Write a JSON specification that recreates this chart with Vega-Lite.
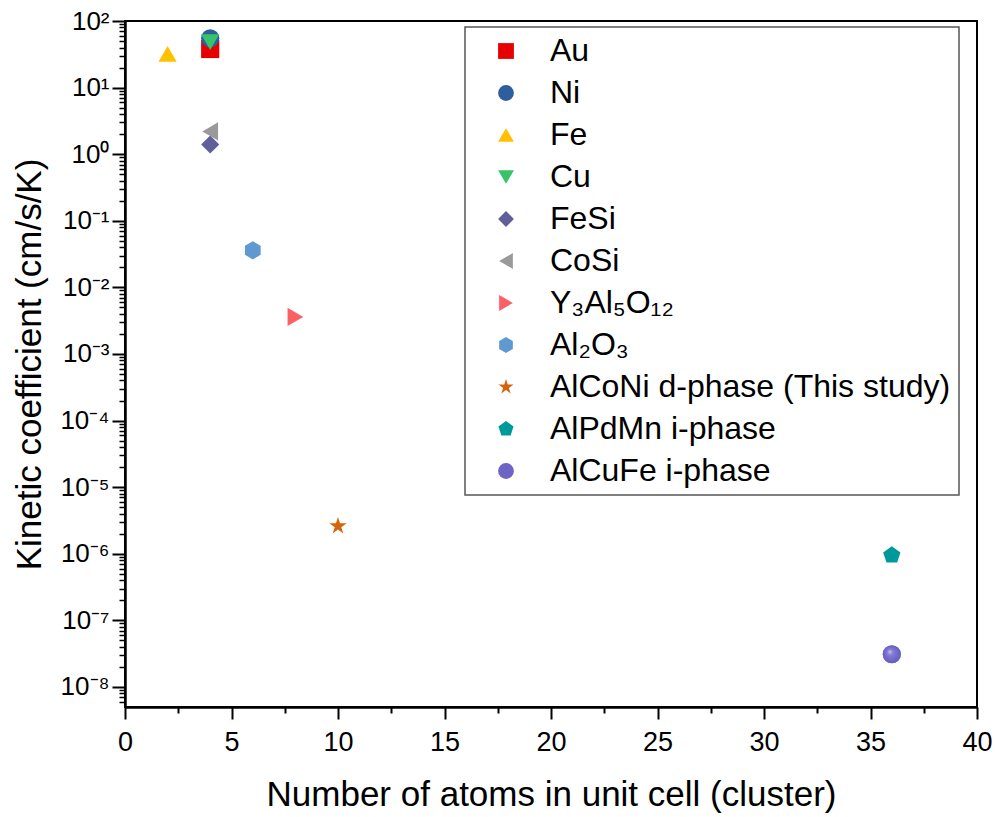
{
  "$schema": "https://vega.github.io/schema/vega-lite/v6.json",
  "width": 852,
  "height": 686,
  "autosize": {"type": "none"},
  "padding": {"left": 125, "top": 21, "right": 18, "bottom": 110},
  "background": "white",
  "config": {
    "font": "Liberation Sans",
    "view": {"stroke": "black", "strokeWidth": 2},
    "legend": {
      "labelFont": "Liberation Sans",
      "labelFontSize": 32,
      "labelColor": "black",
      "labelLimit": 700,
      "symbolSize": 250,
      "symbolStrokeWidth": 0,
      "rowPadding": 10,
      "padding": 8,
      "strokeColor": "#555555",
      "strokeWidth": 1.5,
      "symbolOffset": 17,
      "labelOffset": 28
    }
  },
  "data": {
    "values": [
      {"material": "Au", "atoms": 4, "k": 38},
      {"material": "Ni", "atoms": 4, "k": 55},
      {"material": "Fe", "atoms": 2, "k": 32},
      {"material": "Cu", "atoms": 4, "k": 48},
      {"material": "FeSi", "atoms": 4, "k": 1.4},
      {"material": "CoSi", "atoms": 4, "k": 2.2},
      {"material": "Y₃Al₅O₁₂", "atoms": 8, "k": 0.0036},
      {"material": "Al₂O₃", "atoms": 6, "k": 0.036},
      {"material": "AlCoNi d-phase (This study)", "atoms": 10, "k": 2.6e-6},
      {"material": "AlPdMn i-phase", "atoms": 36, "k": 9.5e-7},
      {"material": "AlCuFe i-phase", "atoms": 36, "k": 3.1e-8}
    ]
  },
  "resolve": {"axis": {"x": "independent", "y": "independent"}},
  "layer": [
    {
      "mark": {"type": "point", "filled": true, "opacity": 0, "size": 10},
      "encoding": {
        "x": {
          "field": "atoms",
          "type": "quantitative",
          "scale": {"domain": [0, 40], "nice": false, "zero": false},
          "axis": {
            "orient": "bottom",
            "title": null,
            "values": [2.5, 7.5, 12.5, 17.5, 22.5, 27.5, 32.5, 37.5],
            "labels": false,
            "domain": false,
            "tickColor": "black",
            "tickWidth": 2,
            "tickSize": 6,
            "grid": false
          }
        },
        "y": {
          "field": "k",
          "type": "quantitative",
          "scale": {"type": "log", "domain": [5e-9, 100], "nice": false},
          "axis": {
            "orient": "left",
            "title": null,
            "values": [6e-9, 7e-9, 8e-9, 9e-9,
              2e-8, 3e-8, 4e-8, 5e-8, 6e-8, 7e-8, 8e-8, 9e-8,
              2e-7, 3e-7, 4e-7, 5e-7, 6e-7, 7e-7, 8e-7, 9e-7,
              2e-6, 3e-6, 4e-6, 5e-6, 6e-6, 7e-6, 8e-6, 9e-6,
              2e-5, 3e-5, 4e-5, 5e-5, 6e-5, 7e-5, 8e-5, 9e-5,
              2e-4, 3e-4, 4e-4, 5e-4, 6e-4, 7e-4, 8e-4, 9e-4,
              0.002, 0.003, 0.004, 0.005, 0.006, 0.007, 0.008, 0.009,
              0.02, 0.03, 0.04, 0.05, 0.06, 0.07, 0.08, 0.09,
              0.2, 0.3, 0.4, 0.5, 0.6, 0.7, 0.8, 0.9,
              2, 3, 4, 5, 6, 7, 8, 9,
              20, 30, 40, 50, 60, 70, 80, 90],
            "labels": false,
            "domain": false,
            "tickColor": "black",
            "tickWidth": 1.5,
            "tickSize": 6,
            "grid": false
          }
        }
      }
    },
    {
      "mark": {"type": "point", "filled": true, "size": 330, "opacity": 1, "strokeWidth": 0},
      "encoding": {
        "x": {
          "field": "atoms",
          "type": "quantitative",
          "scale": {"domain": [0, 40], "nice": false, "zero": false},
          "axis": {
            "orient": "bottom",
            "title": "Number of atoms in unit cell (cluster)",
            "titleFont": "Liberation Sans",
            "titleFontSize": 35,
            "titleFontWeight": "normal",
            "titleColor": "black",
            "titlePadding": 22,
            "values": [0, 5, 10, 15, 20, 25, 30, 35, 40],
            "labelFontSize": 27,
            "labelColor": "black",
            "labelPadding": 10,
            "labelFlush": false,
            "tickColor": "black",
            "tickWidth": 2,
            "tickSize": 12,
            "domainColor": "black",
            "domainWidth": 2.5,
            "grid": false
          }
        },
        "y": {
          "field": "k",
          "type": "quantitative",
          "scale": {"type": "log", "domain": [5e-9, 100], "nice": false},
          "axis": {
            "orient": "left",
            "title": "Kinetic coefficient (cm/s/K)",
            "titleFont": "Liberation Sans",
            "titleFontSize": 35,
            "titleFontWeight": "normal",
            "titleColor": "black",
            "titlePadding": 12,
            "values": [1e-8, 1e-7, 1e-6, 1e-5, 1e-4, 0.001, 0.01, 0.1, 1, 10, 100],
            "labelExpr": "'10' + replace(replace(replace(replace(replace(replace(replace(replace(replace(replace(replace(toString(round(log(datum.value)/LN10)), '-', '⁻'), '0', '⁰'), '1', '¹'), '2', '²'), '3', '³'), '4', '⁴'), '5', '⁵'), '6', '⁶'), '7', '⁷'), '8', '⁸'), '9', '⁹')",
            "labelFontSize": 26,
            "labelColor": "black",
            "labelPadding": 3,
            "labelFlush": false,
            "labelOverlap": false,
            "tickColor": "black",
            "tickWidth": 2,
            "tickSize": 13,
            "domainColor": "black",
            "domainWidth": 2.5,
            "grid": false
          }
        },
        "color": {
          "field": "material",
          "type": "nominal",
          "scale": {
            "domain": ["Au", "Ni", "Fe", "Cu", "FeSi", "CoSi", "Y₃Al₅O₁₂", "Al₂O₃", "AlCoNi d-phase (This study)", "AlPdMn i-phase", "AlCuFe i-phase"],
            "range": ["#e60000", "#2e5e9e", "#ffc000", "#36c46a", "#615f9b", "#9a9a9a", "#fa6064", "#6099d0", "#d4650e", "#00999a", "#6d64c4"]
          },
          "legend": {"title": null, "orient": "none", "legendX": 340, "legendY": 6}
        },
        "shape": {
          "field": "material",
          "type": "nominal",
          "scale": {
            "domain": ["Au", "Ni", "Fe", "Cu", "FeSi", "CoSi", "Y₃Al₅O₁₂", "Al₂O₃", "AlCoNi d-phase (This study)", "AlPdMn i-phase", "AlCuFe i-phase"],
            "range": ["square", "circle", "triangle-up", "triangle-down", "diamond", "triangle-left", "triangle-right", "M0,-1L0.866,-0.5L0.866,0.5L0,1L-0.866,0.5L-0.866,-0.5Z", "M0,-1L0.2245,-0.309L0.951,-0.309L0.363,0.118L0.588,0.809L0,0.382L-0.588,0.809L-0.363,0.118L-0.951,-0.309L-0.2245,-0.309Z", "M0,-1L0.951,-0.309L0.588,0.809L-0.588,0.809L-0.951,-0.309Z", "circle"]
          },
          "legend": {"title": null, "orient": "none", "legendX": 340, "legendY": 6}
        }
      }
    },
    {
      "transform": [{"filter": "datum.material == 'AlCuFe i-phase'"}],
      "mark": {
        "type": "point",
        "filled": true,
        "size": 330,
        "shape": "circle",
        "strokeWidth": 0,
        "color": {
          "gradient": "radial",
          "x1": 0.38, "y1": 0.35, "r1": 0,
          "x2": 0.5, "y2": 0.5, "r2": 0.55,
          "stops": [
            {"offset": 0, "color": "#eeeeff"},
            {"offset": 0.3, "color": "#8c84dc"},
            {"offset": 1, "color": "#5b53b5"}
          ]
        }
      },
      "encoding": {
        "x": {"field": "atoms", "type": "quantitative", "scale": {"domain": [0, 40], "nice": false, "zero": false}, "axis": null},
        "y": {"field": "k", "type": "quantitative", "scale": {"type": "log", "domain": [5e-9, 100], "nice": false}, "axis": null}
      }
    }
  ]
}
